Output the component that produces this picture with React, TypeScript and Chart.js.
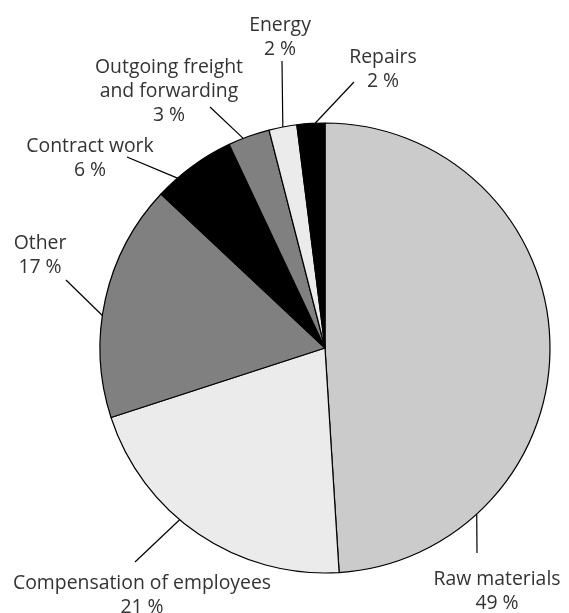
import React, { useEffect, useRef } from "react";
import { Chart, registerables } from "chart.js";

Chart.register(...registerables);

const categories = [
  "Raw materials",
  "Compensation of employees",
  "Other",
  "Contract work",
  "Outgoing freight and forwarding",
  "Energy",
  "Repairs",
];
const values = [49, 21, 17, 6, 3, 2, 2];
const labelLines = [
  ["Raw materials", "49 %"],
  ["Compensation of employees", "21 %"],
  ["Other", "17 %"],
  ["Contract work", "6 %"],
  ["Outgoing freight", "and forwarding", "3 %"],
  ["Energy", "2 %"],
  ["Repairs", "2 %"],
];
const colors = ["#cbcbcb", "#ebebeb", "#808080", "#000000", "#808080", "#ebebeb", "#000000"];

// layout of the outside labels: text centre x, first baseline y, leader outer point, anchor fraction along slice
const labelLayout = [
  { x: 497, y: 585, lx: 477, ly: 553, f: 0.78 },
  { x: 142, y: 589, lx: 135, ly: 562, f: 0.58 },
  { x: 40, y: 249, lx: 66, ly: 280, f: 0.43 },
  { x: 90, y: 152, lx: 127, ly: 157, f: 0.27 },
  { x: 169, y: 72.7, lx: 210, ly: 107, f: 0.36 },
  { x: 280, y: 30.5, lx: 282, ly: 61, f: 0.5 },
  { x: 383, y: 63, lx: 354, ly: 82, f: 0.65 },
];

const FONT = '19.4px "Open Sans"';
const LINE_H = 24;

const labelPlugin = {
  id: "pieLabels",
  afterDraw(chart: any) {
    const ctx = chart.ctx;
    const meta = chart.getDatasetMeta(0);
    ctx.save();
    meta.data.forEach((arc: any, i: number) => {
      const lay = labelLayout[i];
      const { x, y, startAngle, endAngle, outerRadius } = arc.getProps(
        ["x", "y", "startAngle", "endAngle", "outerRadius"],
        true
      );
      const a = startAngle + (endAngle - startAngle) * lay.f;
      const ax = x + Math.cos(a) * outerRadius;
      const ay = y + Math.sin(a) * outerRadius;
      ctx.beginPath();
      ctx.strokeStyle = "#000";
      ctx.lineWidth = 1.2;
      ctx.moveTo(lay.lx, lay.ly);
      ctx.lineTo(ax, ay);
      ctx.stroke();
      ctx.fillStyle = "#333333";
      ctx.font = FONT;
      ctx.textAlign = "center";
      ctx.textBaseline = "alphabetic";
      labelLines[i].forEach((t, k) => {
        ctx.fillText(t, lay.x, lay.y + k * LINE_H);
      });
    });
    ctx.restore();
  },
};

export default function App() {
  const ref = useRef<HTMLCanvasElement>(null);
  useEffect(() => {
    if (!ref.current) return;
    const chart = new Chart(ref.current, {
      type: "pie",
      data: {
        labels: categories,
        datasets: [
          {
            data: values,
            backgroundColor: colors,
            borderColor: "#000000",
            borderWidth: 1.2,
          },
        ],
      },
      options: {
        responsive: false,
        animation: false,
        radius: 225,
        layout: { padding: { left: 100, right: 19, top: 123, bottom: 40 } },
        plugins: {
          legend: { display: false },
          tooltip: { enabled: false },
        },
      } as any,
      plugins: [labelPlugin],
    });
    return () => chart.destroy();
  }, []);
  return (
    <div style={{ position: "absolute", left: 0, top: 0, width: 569, height: 613, background: "#fff" }}>
      <canvas ref={ref} width={569} height={613} style={{ width: 569, height: 613 }} />
    </div>
  );
}
